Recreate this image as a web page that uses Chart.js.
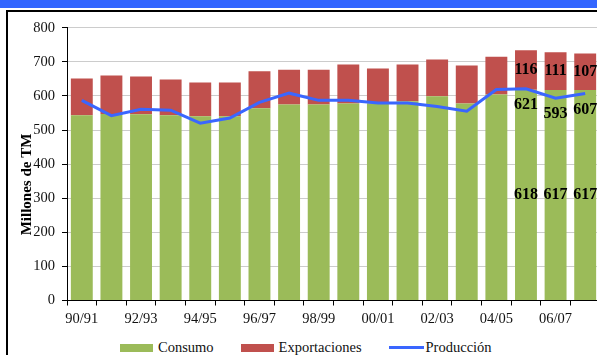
<!DOCTYPE html>
<html>
<head>
<meta charset="utf-8">
<script src="https://cdn.jsdelivr.net/npm/chart.js@4"></script>
<style>
  html, body { margin: 0; padding: 0; background: #fff; overflow: hidden; width: 597px; height: 355px; }
  #band { position: absolute; left: 0; top: 0; width: 597px; height: 8px; background: #3366ff; }
  #frame { position: absolute; left: 6px; top: 10px; width: 600px; height: 360px; border-left: 2px solid #000; border-top: 2px solid #000; }
  #wrap { position: absolute; left: 8px; top: 12px; width: 600px; height: 320px; }
  #legend { position: absolute; left: 120px; top: 339px; height: 17px; display: flex; align-items: center;
    font: 14.5px "Liberation Serif", serif; color: #111; white-space: nowrap; }
  #legend .item { display: flex; align-items: center; margin-right: 27px; }
  #legend .sw { display: inline-block; width: 33px; height: 8px; margin-right: 5px; }
  #legend .ln { display: inline-block; width: 35px; height: 3px; margin-right: 2px; }
</style>
</head>
<body>
<div id="band"></div>
<div id="frame"></div>
<div id="wrap"><canvas id="chart"></canvas></div>
<div id="legend"></div>
<script>
const campanas = ['90/91', '91/92', '92/93', '93/94', '94/95', '95/96', '96/97', '97/98', '98/99',
  '99/00', '00/01', '01/02', '02/03', '03/04', '04/05', '05/06', '06/07', '07/08'];
const consumo = [543, 547, 546, 543, 540, 540, 564, 575, 575, 578, 578, 584, 599, 578, 604, 618, 617, 617];
const exportaciones = [108, 113, 111, 105, 99, 99, 108, 102, 102, 114, 102, 108, 108, 111, 111, 116, 111, 107];
const produccion = [587, 542, 561, 558, 520, 535, 581, 608, 587, 587, 579, 579, 569, 555, 619, 621, 593, 607];
const yTicks = [0, 100, 200, 300, 400, 500, 600, 700, 800];
const conEtiqueta = [15, 16, 17];

const serif = '"Liberation Serif", "Times New Roman", serif';

// etiquetas de valores de las tres ultimas campanas + titulo del eje y
const extras = {
  id: 'extras',
  afterDatasetsDraw(chart) {
    const ctx = chart.ctx;
    ctx.save();
    ctx.font = 'bold 16px ' + serif;
    ctx.fillStyle = '#000';
    ctx.textAlign = 'center';
    ctx.textBaseline = 'middle';
    const lineMeta = chart.getDatasetMeta(2);
    conEtiqueta.forEach(i => {
      [0, 1].forEach(d => {
        const bar = chart.getDatasetMeta(d).data[i];
        const v = chart.data.datasets[d].data[i];
        ctx.fillText(v, bar.x, (bar.y + bar.base) / 2);
      });
      const pt = lineMeta.data[i];
      ctx.fillText(chart.data.datasets[2].data[i], pt.x, pt.y + 16);
    });

    ctx.font = 'bold 15px ' + serif;
    ctx.translate(19.5, chart.chartArea.bottom - 116);
    ctx.rotate(-Math.PI / 2);
    ctx.fillText('Millones de TM', 0, 0);
    ctx.restore();
  }
};

const chart = new Chart(document.getElementById('chart'), {
  type: 'bar',
  data: {
    labels: campanas,
    datasets: [{
      label: 'Consumo',
      data: consumo,
      backgroundColor: '#9bbb59',
      stack: 'total',
      categoryPercentage: 1,
      barPercentage: 0.74,
      order: 1
    }, {
      label: 'Exportaciones',
      data: exportaciones,
      backgroundColor: '#c0504d',
      stack: 'total',
      categoryPercentage: 1,
      barPercentage: 0.74,
      order: 1
    }, {
      type: 'line',
      label: 'Producción',
      data: produccion,
      borderColor: '#3a66ff',
      backgroundColor: '#3a66ff',
      borderWidth: 3,
      pointRadius: 0,
      tension: 0,
      stack: 'linea',
      order: 0
    }]
  },
  options: {
    responsive: true,
    maintainAspectRatio: false,
    animation: false,
    layout: { padding: { top: 14, right: 8, bottom: 0, left: 0 } },
    plugins: {
      tooltip: { enabled: false },
      legend: { display: false }
    },
    scales: {
      x: {
        stacked: true,
        grid: { drawOnChartArea: false, offset: true, tickLength: 5, tickColor: '#000' },
        border: { color: '#000', width: 1 },
        ticks: {
          autoSkip: false,
          maxRotation: 0,
          padding: 6,
          color: '#111',
          font: { family: serif, size: 14.5, lineHeight: 1 },
          callback: (v, i) => (i % 2 === 0 ? campanas[i] : '')
        }
      },
      y: {
        stacked: true,
        min: 0,
        max: 800,
        afterBuildTicks: s => { s.ticks = yTicks.map(v => ({ value: v })); },
        afterFit: s => { s.width = 59; },
        grid: { color: '#cccccc', tickColor: '#000', tickLength: 5 },
        border: { color: '#000', width: 1 },
        ticks: { padding: 7, color: '#111', font: { family: serif, size: 14.5 } }
      }
    }
  },
  plugins: [extras]
});

// leyenda
const legend = document.getElementById('legend');
chart.data.datasets.forEach(ds => {
  const item = document.createElement('span');
  item.className = 'item';
  const sw = document.createElement('span');
  sw.className = ds.type === 'line' ? 'ln' : 'sw';
  sw.style.background = ds.type === 'line' ? ds.borderColor : ds.backgroundColor;
  item.appendChild(sw);
  item.appendChild(document.createTextNode(ds.label));
  legend.appendChild(item);
});
</script>
</body>
</html>
